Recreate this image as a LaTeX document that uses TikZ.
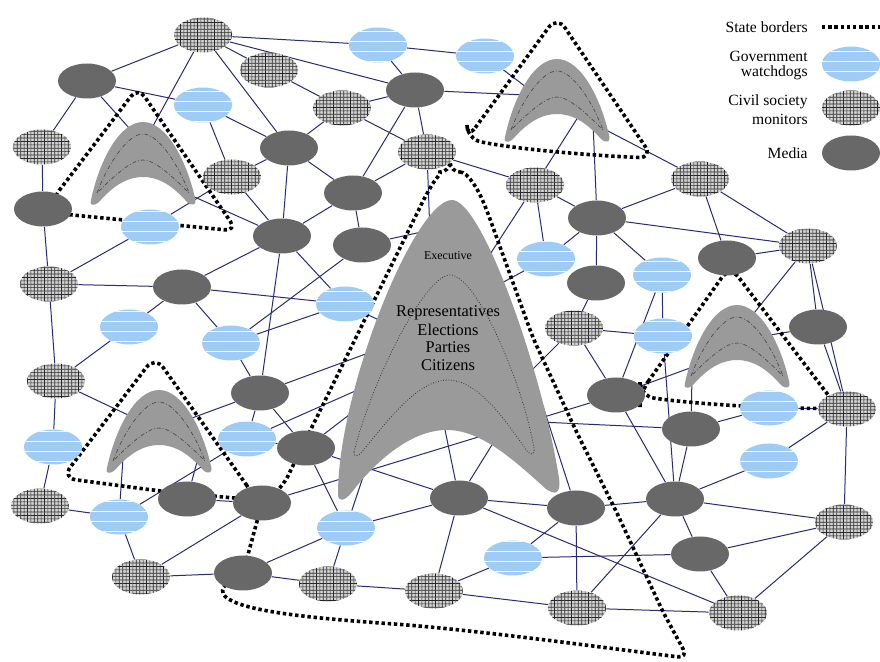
\documentclass[tikz,border=0pt]{standalone}
\usepackage{fontspec}
\setmainfont{Liberation Serif}
\usetikzlibrary{shapes.geometric,patterns}
\pgfdeclarelayer{bglayer}
\pgfdeclarelayer{edgelayer}
\pgfdeclarelayer{borderlayer}
\pgfdeclarelayer{shapelayer}
\pgfsetlayers{bglayer,edgelayer,borderlayer,shapelayer,main}
\definecolor{medgray}{RGB}{104,104,104}
\definecolor{govblue}{RGB}{158,204,244}
\definecolor{civgray}{RGB}{212,212,212}
\definecolor{edgeblue}{RGB}{42,42,118}
\definecolor{stategray}{RGB}{154,154,154}
\pgfdeclarepatternformonly{chk}{\pgfqpoint{-0.1pt}{-0.1pt}}{\pgfqpoint{1.8pt}{1.8pt}}{\pgfqpoint{1.7pt}{1.7pt}}{%
 \pgfpathrectangle{\pgfqpoint{0pt}{0pt}}{\pgfqpoint{1.7pt}{0.32pt}}%
 \pgfpathrectangle{\pgfqpoint{0pt}{0pt}}{\pgfqpoint{0.32pt}{1.7pt}}%
 \pgfusepath{fill}}
\pgfdeclarepatternformonly{hstripe}{\pgfqpoint{-0.1pt}{-0.1pt}}{\pgfqpoint{2.1pt}{5.1pt}}{\pgfqpoint{2pt}{5pt}}{%
 \pgfpathrectangle{\pgfqpoint{0pt}{0pt}}{\pgfqpoint{2pt}{0.5pt}}%
 \pgfusepath{fill}}
\tikzset{
 nd/.style={ellipse, minimum width=29pt, minimum height=17.5pt, inner sep=0pt},
 media/.style={nd, fill=medgray},
 gov/.style={nd, preaction={fill=govblue}, pattern=hstripe, pattern color=white},
 civ/.style={nd, preaction={fill=civgray}, pattern=chk, pattern color=black!85},
 conn/.style={draw=edgeblue, line width=0.5pt},
 stateborder/.style={draw=black, line width=1.8pt, dash pattern=on 1.7pt off 1.4pt},
 statebody/.style={fill=stategray},
 boomdash/.style={draw=black!70, line width=0.35pt, dash pattern=on 2pt off 1pt on 0.4pt off 1pt},
 innerdot/.style={draw=black!80, line width=0.4pt, dash pattern=on 0.4pt off 0.9pt},
 lbl/.style={font=\fontsize{7.8pt}{9pt}\selectfont, inner sep=0pt, anchor=east},
 exectext/.style={font=\fontsize{8.2pt}{9pt}\selectfont, inner sep=0pt},
}
\newcommand{\mkboom}[2]{%
 \begin{scope}[shift={(#1,#2)}]
 \fill[statebody] (-52,78) .. controls (-44,40) and (-24,0) .. (0,0) .. controls (24,0) and (44,40) .. (52,76) .. controls (54,83) and (50,85) .. (44,80) .. controls (30,64) and (16,55) .. (0,55) .. controls (-16,55) and (-30,64) .. (-44,80) .. controls (-50,85) and (-54,83) .. (-52,78) -- cycle;
 \draw[boomdash] (-46,71) .. controls (-36,44) and (-16,12) .. (0,12) .. controls (16,12) and (36,44) .. (46,71) .. controls (30,55) and (12,38) .. (0,38) .. controls (-12,38) and (-30,55) .. (-46,71) -- cycle;
 \end{scope}}
\begin{document}
\begin{tikzpicture}[x=0.5pt,y=-0.5pt]
\useasboundingbox (0,0) rectangle (880,662);
\begin{pgfonlayer}{bglayer}
\fill[white] (0,0) rectangle (880,662);
\end{pgfonlayer}
% civil society monitors
\node[civ] (n1) at (203,35) {};
\node[civ] (n5) at (269,70) {};
\node[civ] (n8) at (342,108) {};
\node[civ] (n9) at (42,147) {};
\node[civ] (n11) at (427,152) {};
\node[civ] (n12) at (232,177) {};
\node[civ] (n18) at (535,185) {};
\node[civ] (n19) at (700,179) {};
\node[civ] (n22) at (808,246) {};
\node[civ] (n26) at (49,284) {};
\node[civ] (n31) at (574,328) {};
\node[civ] (n34) at (56,381) {};
\node[civ] (n38) at (847,409) {};
\node[civ] (n44) at (40,506) {};
\node[civ] (n53) at (844,522) {};
\node[civ] (n55) at (141,577) {};
\node[civ] (n57) at (328,584) {};
\node[civ] (n58) at (434,591) {};
\node[civ] (n59) at (577,608) {};
\node[civ] (n60) at (738,613) {};
% government watchdogs
\node[gov] (n2) at (378,45) {};
\node[gov] (n3) at (485,56) {};
\node[gov] (n6) at (203,105) {};
\node[gov] (n15) at (150,227) {};
\node[gov] (n21) at (546,259) {};
\node[gov] (n25) at (662,275) {};
\node[gov] (n28) at (345,304) {};
\node[gov] (n29) at (129,327) {};
\node[gov] (n30) at (231,343) {};
\node[gov] (n32) at (663,336) {};
\node[gov] (n37) at (769,408) {};
\node[gov] (n39) at (53,447) {};
\node[gov] (n40) at (247,439) {};
\node[gov] (n43) at (769,461) {};
\node[gov] (n50) at (119,517) {};
\node[gov] (n51) at (346,528) {};
\node[gov] (n54) at (513,558) {};
% media
\node[media] (n4) at (87,81) {};
\node[media] (n7) at (415,90) {};
\node[media] (n10) at (289,148) {};
\node[media] (n13) at (353,193) {};
\node[media] (n14) at (43,209) {};
\node[media] (n16) at (282,236) {};
\node[media] (n17) at (362,245) {};
\node[media] (n20) at (597,218) {};
\node[media] (n23) at (727,258) {};
\node[media] (n24) at (596,283) {};
\node[media] (n27) at (182,287) {};
\node[media] (n33) at (818,327) {};
\node[media] (n35) at (260,393) {};
\node[media] (n36) at (616,395) {};
\node[media] (n41) at (306,448) {};
\node[media] (n42) at (691,429) {};
\node[media] (n45) at (187,499) {};
\node[media] (n46) at (262,503) {};
\node[media] (n47) at (459,498) {};
\node[media] (n48) at (576,508) {};
\node[media] (n49) at (675,499) {};
\node[media] (n52) at (700,554) {};
\node[media] (n56) at (243,573) {};
% executive texts
\node[exectext, font=\fontsize{6pt}{7pt}\selectfont] (tExec) at (448,256) {Executive};
\node[exectext] (tRep) at (448,313) {Representatives};
\node[exectext] (tEle) at (448,330) {Elections};
\node[exectext] (tPar) at (448,347) {Parties};
\node[exectext] (tCit) at (448,365) {Citizens};
% legend
\node[lbl] (tState) at (808,27) {State borders};
\coordinate (lg1) at (822,27);
\coordinate (lg2) at (880,27);
\draw[stateborder] (lg1) -- (lg2);
\node[lbl] (tGov1) at (808,56) {Government};
\node[lbl] (tGov2) at (808,73) {watchdogs};
\node[gov] (lgG) at (851,64) {};
\node[lbl] (tCiv1) at (808,102) {Civil society};
\node[lbl] (tCiv2) at (808,119) {monitors};
\node[civ] (lgC) at (851,108) {};
\node[lbl] (tMed) at (808,153) {Media};
\node[media] (lgM) at (851,153) {};
% state shapes
\begin{pgfonlayer}{shapelayer}
\fill[statebody] (338,494) .. controls (338,390) and (415,200) .. (452,200) .. controls (482,200) and (542,370) .. (559,478) .. controls (561,493) and (556,496) .. (546,489) .. controls (512,458) and (480,430) .. (447,430) .. controls (414,430) and (380,456) .. (352,492) .. controls (344,502) and (338,502) .. (338,494) -- cycle;
\draw[innerdot] (354,452) .. controls (372,380) and (425,275) .. (450,275) .. controls (476,275) and (522,380) .. (534,448) .. controls (535,455) and (531,456) .. (527,451) .. controls (505,420) and (478,380) .. (448,380) .. controls (418,380) and (388,420) .. (362,452) .. controls (358,457) and (353,457) .. (354,452) -- cycle;
\mkboom{143}{122}
\mkboom{557}{59}
\mkboom{159}{390}
\mkboom{737}{305}
\end{pgfonlayer}
% state borders
\begin{pgfonlayer}{borderlayer}
\draw[stateborder, rounded corners=6pt] (52,200) -- (138,87) -- (237,231) -- (52,213) -- cycle;
\draw[stateborder, rounded corners=7pt] (467,139) -- (557,16) -- (653,158) .. controls (600,156) and (520,150) .. (467,139) -- cycle;
\draw[stateborder, rounded corners=7pt] (255,497) -- (155,356) -- (62,478) -- (160,491) -- (255,500) -- cycle;
\draw[stateborder, rounded corners=7pt] (640,393) -- (730,266) -- (838,408) .. controls (790,409) and (700,405) .. (640,396) -- cycle;
\draw[stateborder, rounded corners=5pt] (450,172) .. controls (468,172) and (478,190) .. (486,208) -- (533,338) -- (577,433) -- (617,513) -- (663,612) -- (688,658) .. controls (620,650) and (480,630) .. (380,623) .. controls (300,617) and (240,610) .. (218,590) -- (243,573) -- (262,503) -- (283,486) -- (427,193) .. controls (435,180) and (442,172) .. (450,172) -- cycle;
\end{pgfonlayer}
% connectors
\begin{pgfonlayer}{edgelayer}
\coordinate (aA1) at (148,135); \coordinate (aA2) at (138,138); \coordinate (aA3) at (190,195);
\coordinate (bB1) at (530,90); \coordinate (bB2) at (525,95); \coordinate (bB3) at (580,114);
\coordinate (bB4) at (593,122); \coordinate (bB5) at (606,130);
\coordinate (cC1) at (192,418); \coordinate (cC2) at (128,415); \coordinate (cC3) at (123,458); \coordinate (cC4) at (197,462);
\coordinate (dD1) at (692,376); \coordinate (dD2) at (750,318); \coordinate (dD3) at (770,335); \coordinate (dD4) at (690,368);
\coordinate (xA) at (430,235); \coordinate (xB) at (440,228); \coordinate (xC) at (400,330);
\coordinate (xD) at (390,345); \coordinate (xE) at (380,380); \coordinate (xF) at (375,395);
\coordinate (xG) at (366,468); \coordinate (xH) at (443,420); \coordinate (xI) at (500,432);
\coordinate (xJ) at (541,400); \coordinate (xK) at (540,422); \coordinate (xL) at (485,262);
\coordinate (xM) at (498,285); \coordinate (xN) at (530,372);
\foreach \a/\b in {n1/n2, n1/n7, n1/n5, n1/n10, n1/n4, n1/aA1,
 n4/n6, n4/n9, n4/aA2, n5/n8, n6/n10, n6/n12,
 n2/n3, n2/n7, n3/bB1, n7/bB2,
 n8/n7, n8/n10, n8/n11, n7/n11, n7/n13,
 n9/n14, n14/n26, n15/n12, n15/n26,
 n12/n10, n12/n16, aA3/n16,
 n10/n13, n10/n16, n11/n13, n11/n18, n11/xA,
 n13/n16, n13/n17, n17/xB,
 n16/n27, n16/n28, n16/n35, n17/n30,
 n27/n26, n27/n29, n27/n30, n27/n28,
 n26/n34, n29/n34, n30/n28, n30/n35, n28/xC,
 n35/cC1, n35/n40, n35/n41, n35/xD,
 n34/n39, n34/cC2, n39/n44, n44/n50,
 n50/cC3, n50/n55, n50/n40, cC4/n45, n45/n46,
 n40/n41, n40/xE, n41/xF, n41/n51, n41/n47,
 n46/n55, n46/n36, n55/n56, n56/n51, n56/n57,
 n51/xG, n51/n57, n51/n47,
 n47/n58, n47/xH, n47/xI, n47/n48, n47/n60,
 n48/n54, n48/n49, xJ/n48, n48/n59,
 n54/n58, n54/n52, n57/n58, n58/n59, n59/n60, n59/n49,
 n36/n49, n42/n49, n32/n49, n43/n49, n49/n53, n49/n52,
 n52/n53, n52/n60, n53/n60,
 n38/n53, n37/n38, n42/n37, n43/n38, n42/dD1, xK/n42,
 bB3/n18, bB4/n20, bB5/n19,
 n18/n20, n18/n21, n18/xL,
 n20/n19, n20/n21, n20/n24, n20/n25, n20/n22,
 n19/n23, n19/n22, n23/n22,
 n22/dD2, n22/n33, n22/n38, n33/n38, n33/dD3,
 n21/xM, n24/n31, n25/n32, n25/n36,
 n31/n32, n31/n36, n31/xN, n36/dD4}
 \draw[conn] (\a) -- (\b);
\end{pgfonlayer}
\end{tikzpicture}
\end{document}
